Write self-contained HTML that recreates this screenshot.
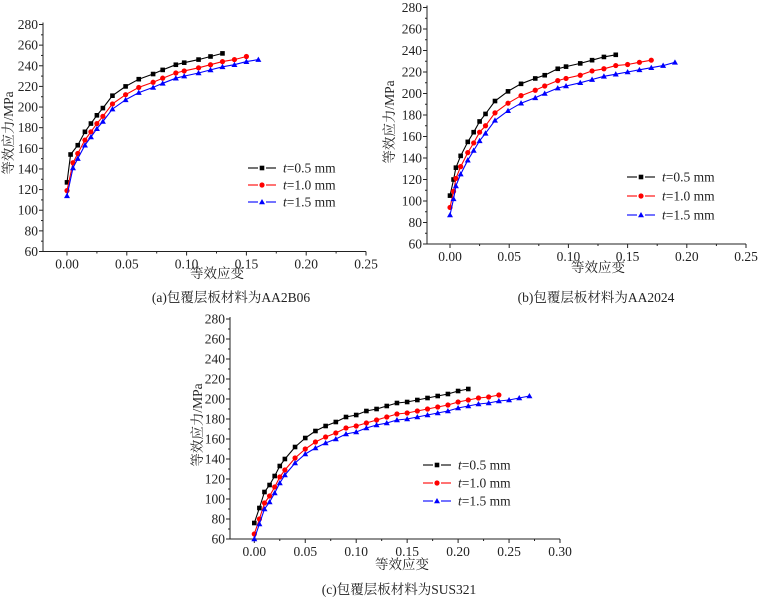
<!DOCTYPE html>
<html><head><meta charset="utf-8"><style>
body{margin:0;background:#fff}
svg{display:block}
text{font-family:"Liberation Serif",serif;fill:#222}
text.cjk{font-family:"Liberation Serif","Noto Serif CJK SC",serif}
</style></head><body>
<svg id="s" width="762" height="601" xmlns="http://www.w3.org/2000/svg"></svg>
<script>
// ---- chart (a) data ----
const aX1=[0,0.003,0.009,0.015,0.02,0.025,0.03,0.038,0.049,0.06,0.072,0.08,0.091,0.098,0.11,0.12,0.13];
const aY1=[127,154,163,176,184,192,199,211,220,227,232,236,241,243,246,249,252];
const aX2=[0,0.005,0.009,0.015,0.02,0.025,0.03,0.038,0.049,0.06,0.072,0.08,0.091,0.098,0.11,0.12,0.13,0.14,0.15];
const aY2=[119,146,155,168,176,184,191,203,212,219,224,228,233,235,238,241,244,246,249];
const aX3=[0,0.005,0.009,0.015,0.02,0.025,0.03,0.038,0.049,0.06,0.072,0.08,0.091,0.098,0.11,0.12,0.13,0.14,0.15,0.16];
const aY3=[114,141,150,163,171,179,186,198,207,214,219,223,228,230,233,236,239,241,244,246];
// ---- chart (b) data ----
const bX1=[0,0.003,0.005,0.009,0.015,0.02,0.025,0.03,0.038,0.049,0.06,0.072,0.08,0.091,0.098,0.11,0.12,0.13,0.14];
const bY1=[105,120,131,142,155,164,174,181,193,202,209,214,217,223,225,228,231,234,236];
const bX2=[0,0.003,0.005,0.009,0.015,0.02,0.025,0.03,0.038,0.049,0.06,0.072,0.08,0.091,0.098,0.11,0.12,0.13,0.14,0.15,0.16,0.17];
const bY2=[94,109,121,132,145,154,164,170,182,191,198,203,207,212,214,217,221,223,226,227,229,231];
const bX3=[0,0.003,0.005,0.009,0.015,0.02,0.025,0.03,0.038,0.049,0.06,0.072,0.08,0.091,0.098,0.11,0.12,0.13,0.14,0.15,0.16,0.17,0.18,0.19];
const bY3=[87,102,114,125,138,147,156,163,175,184,191,196,200,205,207,210,213,216,218,220,222,224,226,229];
// ---- chart (c) data ----
const cX1=[0,0.005,0.01,0.015,0.02,0.025,0.03,0.04,0.05,0.06,0.07,0.08,0.09,0.10,0.11,0.12,0.13,0.14,0.15,0.16,0.17,0.18,0.19,0.20,0.21];
const cY1=[76,91,107,114,123,133,140,152,161,168,173,177,182,184,188,190,193,196,197,199,201,203,205,208,210];
const cX2=[0,0.005,0.01,0.015,0.02,0.025,0.03,0.04,0.05,0.06,0.07,0.08,0.09,0.10,0.11,0.12,0.13,0.14,0.15,0.16,0.17,0.18,0.19,0.20,0.21,0.22,0.23,0.24];
const cY2=[65,80,96,103,112,122,129,141,150,157,162,166,171,173,176,179,182,185,186,188,190,192,194,197,199,201,202,204];
const cX3=[0,0.005,0.01,0.015,0.02,0.025,0.03,0.04,0.05,0.06,0.07,0.08,0.09,0.10,0.11,0.12,0.13,0.14,0.15,0.16,0.17,0.18,0.19,0.20,0.21,0.22,0.23,0.24,0.25,0.26,0.27];
const cY3=[60,75,90,97,106,116,124,136,145,151,156,160,165,167,171,174,176,179,180,182,184,186,188,191,193,195,196,198,199,201,203];
const yTicks=[60,80,100,120,140,160,180,200,220,240,260,280];
const xTicksAB=["0.00","0.05","0.10","0.15","0.20","0.25"];
const xTicksC=["0.00","0.05","0.10","0.15","0.20","0.25","0.30"];
const seriesLabels=["=0.5 mm","=1.0 mm","=1.5 mm"];
const colors=["#000","#f00","#00f"];

const NS="http://www.w3.org/2000/svg";
const svg=document.getElementById('s');
function mk(tag,at,parent){const e=document.createElementNS(NS,tag);for(const k in at)e.setAttribute(k,at[k]);(parent||svg).appendChild(e);return e;}
function marker(g,i,x,y){
  let m;
  if(i===0)m=mk('rect',{x:x-2.3,y:y-2.3,width:4.6,height:4.6,fill:colors[i]},g);
  else if(i===1)m=mk('circle',{cx:x,cy:y,r:2.6,fill:colors[i]},g);
  else m=mk('polygon',{points:`${x},${y-3} ${x-3},${y+2.3} ${x+3},${y+2.3}`,fill:colors[i]},g);
  
  
}
function chart(c){
  const g=mk('g',{});
  
  
  const sx=v=>c.x0px+(v-0)*(c.x1px-c.x0px)/c.xmaxTick;
  const sy=v=>c.ybot+(v-60)*(c.ytop-c.ybot)/220;
  const ax=mk('path',{d:`M${c.left},${c.ytop-2}V${c.ybot}H${c.x1px}`,stroke:'#222','stroke-width':1,fill:'none'},g);
  
  
  yTicks.forEach((v,k)=>{
    const y=sy(v);
    mk('line',{x1:c.left-4,x2:c.left,y1:y,y2:y,stroke:'#222'},g);
    if(k<yTicks.length-1)mk('line',{x1:c.left-2,x2:c.left,y1:sy(v+10),y2:sy(v+10),stroke:'#222'},g);
    const t=mk('text',{x:c.left-5,y:y+4.5,'text-anchor':'end','font-size':13.5},g);t.textContent=v;
    
    
  });
  c.xt.forEach((s,k)=>{
    const v=parseFloat(s),x=sx(v);
    mk('line',{x1:x,x2:x,y1:c.ybot,y2:c.ybot+4,stroke:'#222'},g);
    if(k<c.xt.length-1)mk('line',{x1:sx(v+0.025),x2:sx(v+0.025),y1:c.ybot,y2:c.ybot+2,stroke:'#222'},g);
    const t=mk('text',{x:x,y:c.ybot+17,'text-anchor':'middle','font-size':13.5},g);t.textContent=s;
    
    
  });
  c.series.forEach((s,i)=>{
    const d=s[0].map((v,k)=>(k?'L':'M')+sx(v).toFixed(1)+','+sy(s[1][k]).toFixed(1)).join('');
    const p=mk('path',{d:d,stroke:colors[i],'stroke-width':1.1,fill:'none'},g);
    
    
    s[0].forEach((v,k)=>marker(g,i,sx(v),sy(s[1][k])));
  });
  const yt=mk('text',{class:'cjk',transform:`translate(${c.ytx},${c.yty}) rotate(-90)`,'text-anchor':'middle','font-size':13.5},g);
  yt.textContent='等效应力/MPa';
  
  
  const xt=mk('text',{class:'cjk',x:c.xtx,y:c.xty,'text-anchor':'middle','font-size':13.5},g);
  xt.textContent='等效应变';
  
  
  const cap=mk('text',{class:'cjk',x:c.capx,y:c.capy,'text-anchor':'middle','font-size':13.5},g);
  cap.textContent=c.cap;
  
  
  seriesLabels.forEach((lab,i)=>{
    const y=c.legY+i*c.legDy;
    const lg=mk('g',{},g);
    
    
    mk('line',{x1:c.legX,x2:c.legX+10,y1:y,y2:y,stroke:colors[i],'stroke-width':1.1},lg);
    mk('line',{x1:c.legX+18,x2:c.legX+28,y1:y,y2:y,stroke:colors[i],'stroke-width':1.1},lg);
    marker(lg,i,c.legX+14,y);
    const t=mk('text',{x:c.legX+35,y:y+4.5,'font-size':13.5},lg);
    const it=mk('tspan',{'font-style':'italic'},t);it.textContent='t';
    const r=mk('tspan',{},t);r.textContent=lab;
  });
}
chart({name:'chart-a',left:43,ytop:24.5,ybot:251.5,x0px:67,x1px:366,xmaxTick:0.25,xt:xTicksAB,
  series:[[aX1,aY1],[aX2,aY2],[aX3,aY3]],ytx:13,yty:133,xtx:217,xty:278,capx:231,capy:302,
  cap:'(a)包覆层板材料为AA2B06',legX:248,legY:168,legDy:17});
chart({name:'chart-b',left:427,ytop:7.5,ybot:244,x0px:450,x1px:746,xmaxTick:0.25,xt:xTicksAB,
  series:[[bX1,bY1],[bX2,bY2],[bX3,bY3]],ytx:394,yty:122,xtx:598,xty:272,capx:596,capy:302,
  cap:'(b)包覆层板材料为AA2024',legX:627,legY:177,legDy:19});
chart({name:'chart-c',left:230,ytop:319,ybot:539,x0px:254.3,x1px:560,xmaxTick:0.30,xt:xTicksC,
  series:[[cX1,cY1],[cX2,cY2],[cX3,cY3]],ytx:202,yty:425,xtx:402,xty:569,capx:399,capy:594,
  cap:'(c)包覆层板材料为SUS321',legX:423,legY:465,legDy:18});
</script>
</body></html>
